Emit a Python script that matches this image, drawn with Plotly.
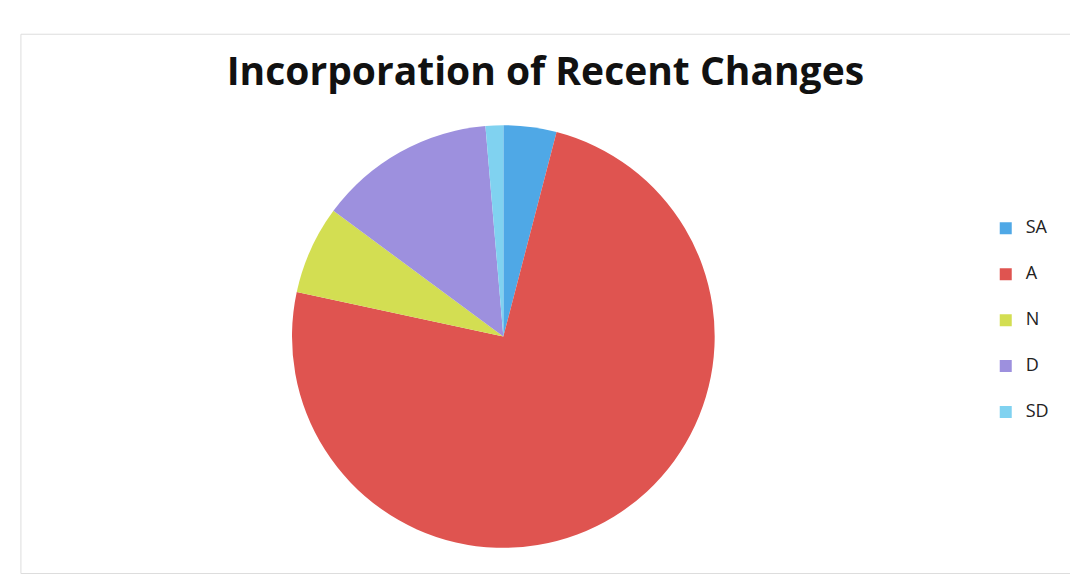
import plotly.graph_objects as go

labels = ["SA", "A", "N", "D", "SD"]
values = [3, 55, 5, 10, 1]
colors = ["#4FA8E6", "#DF5450", "#D3DE52", "#9D90DE", "#80D2F0"]
title_text = "Incorporation of Recent Changes"

legend_labels = ['<span style="font-size:18px;baseline-shift:8px">%s</span>' % l for l in labels]

fig = go.Figure(go.Pie(
    labels=legend_labels,
    values=values,
    marker=dict(colors=colors, line=dict(width=0)),
    sort=False,
    direction="clockwise",
    rotation=0,
    textinfo="none",
    hoverinfo="label+value+percent",
    domain=dict(x=[0.262, 0.657], y=[0.074, 0.799]),
))

fig.update_layout(
    width=1078, height=583,
    margin=dict(l=0, r=0, t=0, b=0),
    paper_bgcolor="#FFFFFF",
    font=dict(family="Open Sans, Liberation Sans, sans-serif", color="#222222"),
    title=dict(text="<b>%s</b>" % title_text, x=0.4985, xanchor="center",
               y=0.892, yanchor="middle",
               font=dict(size=39, color="#111111", family="Open Sans, sans-serif")),
    legend=dict(x=0.907, xanchor="left", y=0.67, yanchor="top",
                font=dict(size=33, color="#222222"),
                bgcolor="rgba(0,0,0,0)"),
    shapes=[dict(type="rect", xref="paper", yref="paper",
                 x0=0.012, x1=0.99, y0=0.03, y1=0.955,
                 line=dict(color="#DDDDDD", width=1))],
)

fig.write_html("out.html")
